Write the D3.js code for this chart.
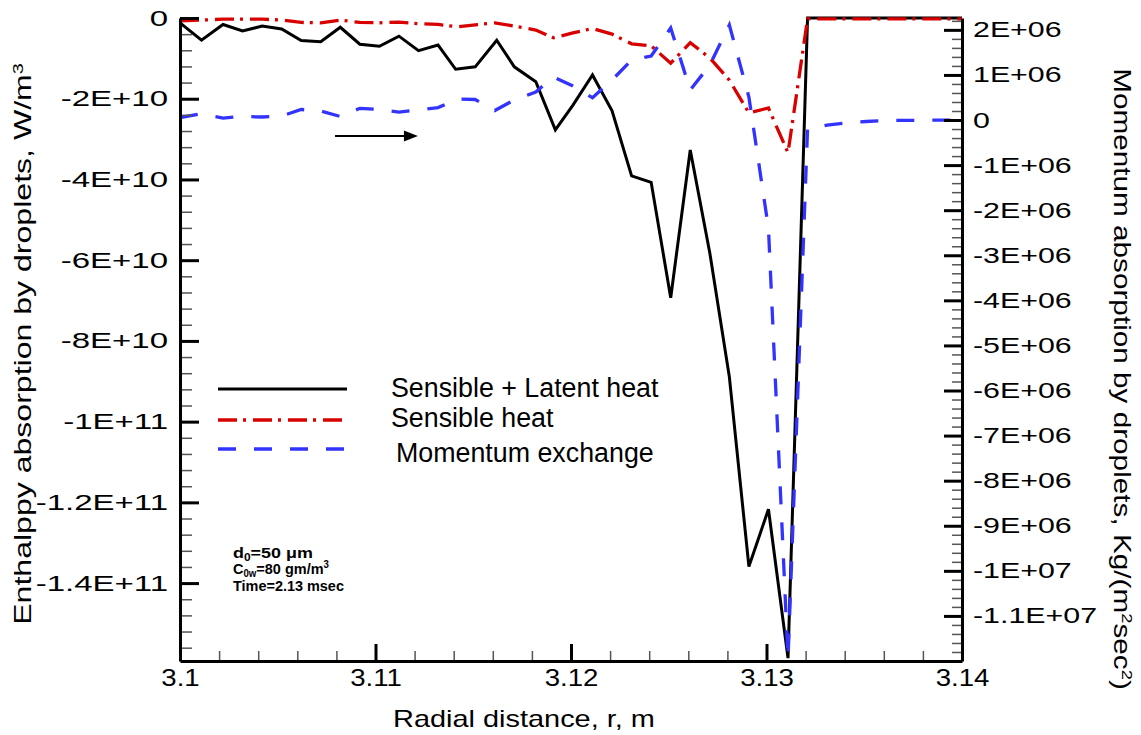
<!DOCTYPE html>
<html><head><meta charset="utf-8">
<script src="https://cdn.jsdelivr.net/npm/d3@7"></script>
<style>
body{margin:0;background:#fff}
svg{display:block}
text{font-family:"Liberation Sans",Arial,Helvetica,sans-serif;fill:#000}
</style>
</head><body>
<svg id="c" width="1141" height="735"></svg>
<script>
// ---------- data ----------
const blackR = [3.1000,3.1011,3.1022,3.1032,3.1042,3.1052,3.1062,3.1072,3.1082,3.1092,3.1102,3.1112,3.1122,3.1132,3.1141,3.1151,3.1162,3.1171,3.1182,3.1192,3.1201,3.1211,3.1221,3.1231,3.1241,3.1251,3.1261,3.1271,3.1281,3.1291,3.1301,3.1311,3.1321,3.1330,3.1400];
const blackQ = [-0.12,-0.55,-0.16,-0.32,-0.20,-0.27,-0.56,-0.59,-0.23,-0.65,-0.70,-0.45,-0.81,-0.67,-1.27,-1.21,-0.55,-1.21,-1.58,-2.77,-2.16,-1.41,-2.30,-3.91,-4.07,-6.93,-3.27,-5.82,-8.89,-13.59,-12.17,-15.86,0,0,0]; // x 1E10 W/m3

const redR = [3.1000,3.1022,3.1042,3.1052,3.1062,3.1072,3.1082,3.1092,3.1102,3.1112,3.1122,3.1132,3.1142,3.1151,3.1161,3.1171,3.1182,3.1191,3.1201,3.1211,3.1221,3.1231,3.1241,3.1251,3.1261,3.1271,3.1281,3.1291,3.1301,3.1311,3.1321,3.1400];
const redQ = [-0.07,-0.03,-0.03,-0.05,-0.11,-0.12,-0.05,-0.11,-0.12,-0.10,-0.14,-0.16,-0.22,-0.17,-0.12,-0.20,-0.30,-0.49,-0.37,-0.26,-0.40,-0.64,-0.69,-1.12,-0.61,-0.99,-1.54,-2.35,-2.23,-3.34,-0.02,-0.02]; // x 1E10 W/m3

const blueR = [3.1000,3.1010,3.1022,3.1032,3.1042,3.1052,3.1062,3.1072,3.1082,3.1092,3.1102,3.1112,3.1122,3.1132,3.1142,3.1151,3.1161,3.1171,3.1182,3.1191,3.1201,3.1211,3.1221,3.1231,3.1241,3.1251,3.1261,3.1271,3.1281,3.1291,3.1301,3.1311,3.1321,3.1331,3.1341,3.1351,3.1361,3.1400];
const blueM = [0.055,0.133,0.044,0.078,0.067,0.089,0.233,0.200,0.078,0.260,0.233,0.177,0.222,0.277,0.466,0.455,0.211,0.444,0.621,0.954,0.754,0.495,0.887,1.331,1.420,2.040,0.665,1.220,2.107,0.510,-2.400,-11.95,-0.200,-0.111,-0.067,-0.033,-0.011,0]; // x 1E6 Kg/(m2 sec2)

const xTicks = [3.10,3.11,3.12,3.13,3.14];
const xTickLabels = ["3.1","3.11","3.12","3.13","3.14"];
const leftTicks = [0,-2e10,-4e10,-6e10,-8e10,-1e11,-1.2e11,-1.4e11];
const leftTickLabels = ["0","-2E+10","-4E+10","-6E+10","-8E+10","-1E+11","-1.2E+11","-1.4E+11"];
const rightTicks = [2e6,1e6,0,-1e6,-2e6,-3e6,-4e6,-5e6,-6e6,-7e6,-8e6,-9e6,-1e7,-1.1e7];
const rightTickLabels = ["2E+06","1E+06","0","-1E+06","-2E+06","-3E+06","-4E+06","-5E+06","-6E+06","-7E+06","-8E+06","-9E+06","-1E+07","-1.1E+07"];

const seriesNames = ["Sensible + Latent heat","Sensible heat","Momentum exchange"];
const seriesColors = ["#000000","#d90000","#3333ff"];

// ---------- layout ----------
const svg = d3.select('#c');
const L=180, R=962, T=18, B=661;
const x = d3.scaleLinear().domain([3.1,3.14]).range([L,R]);
const yL = d3.scaleLinear().domain([-1.593e11,0]).range([B,T]);
const yR = d3.scaleLinear().domain([-1.2e7,2.263e6]).range([B,T]);

svg.append('clipPath').attr('id','clip').append('rect')
  .attr('x',L).attr('y',T-5).attr('width',R-L).attr('height',B-T+5);

const plot = svg.append('g').attr('clip-path','url(#clip)');

const lineL = d3.line().x(d=>x(d[0])).y(d=>yL(d[1]*1e10));
const lineR = d3.line().x(d=>x(d[0])).y(d=>yR(d[1]*1e6));

plot.append('path').datum(blackR.map((r,i)=>[r,blackQ[i]]))
  .attr('d',lineL).attr('fill','none').attr('stroke',seriesColors[0])
  .attr('stroke-width',3).attr('stroke-linejoin','miter');
plot.append('path').datum(redR.map((r,i)=>[r,redQ[i]]))
  .attr('d',lineL).attr('fill','none').attr('stroke',seriesColors[1])
  .attr('stroke-width',3.3).attr('stroke-dasharray','19,6,3,7');
plot.append('path').datum(blueR.map((r,i)=>[r,blueM[i]]))
  .attr('d',lineR).attr('fill','none').attr('stroke',seriesColors[2])
  .attr('stroke-width',3.3).attr('stroke-dasharray','18,18');

// ---------- axes ----------
function stretchTexts(sel, f){
  sel.each(function(){
    const t=d3.select(this);
    const xx=+t.attr('x')||0;
    t.attr('x',0).attr('transform',`translate(${xx},0) scale(${f},1)`);
  });
}
const xMinor = d3.range(0,21).filter(i=>i%5!==0).map(i=>3.1+i*0.002);
const lMinor = d3.range(0,40).filter(i=>i%5!==0).map(i=>-i*4e9).filter(v=>v>=-1.593e11);
const rMinor = d3.range(-60,12).filter(i=>i%5!==0).map(i=>i*2e5).filter(v=>v>=-1.2e7&&v<=2.263e6);

function minor(g){ g.select('.domain').remove(); g.selectAll('.tick line').attr('stroke','#555').attr('stroke-width',1.5); g.selectAll('.tick text').remove(); }
function major(g){ g.select('.domain').attr('stroke','#000').attr('stroke-width',3);
  g.selectAll('.tick line').attr('stroke','#000').attr('stroke-width',3); }

svg.append('g').attr('transform',`translate(0,${B})`)
  .call(d3.axisBottom(x).tickValues(xMinor).tickSizeInner(-10).tickSizeOuter(0).tickFormat('')).call(minor);
svg.append('g').attr('transform',`translate(${L},0)`)
  .call(d3.axisLeft(yL).tickValues(lMinor).tickSizeInner(-12).tickSizeOuter(0).tickFormat('')).call(minor);
svg.append('g').attr('transform',`translate(${R},0)`)
  .call(d3.axisRight(yR).tickValues(rMinor).tickSizeInner(-10).tickSizeOuter(0).tickFormat('')).call(minor);

const gx = svg.append('g').attr('transform',`translate(0,${B})`)
  .call(d3.axisBottom(x).tickValues(xTicks).tickFormat((d,i)=>xTickLabels[i]).tickSizeInner(-17).tickSizeOuter(0))
  .call(major);
gx.selectAll('.tick text').attr('y',25).attr('dy',0).attr('font-size',23).attr('font-family','"Liberation Sans",Arial,sans-serif').attr('fill','#000');
stretchTexts(gx.selectAll('.tick text'),1.2);

const gl = svg.append('g').attr('transform',`translate(${L},0)`)
  .call(d3.axisLeft(yL).tickValues(leftTicks).tickFormat((d,i)=>leftTickLabels[i]).tickSizeInner(-19).tickSizeOuter(0).tickPadding(12))
  .call(major);
gl.selectAll('.tick text').attr('font-size',22).attr('font-family','"Liberation Sans",Arial,sans-serif').attr('fill','#000');
stretchTexts(gl.selectAll('.tick text'),1.5);

const gr = svg.append('g').attr('transform',`translate(${R},0)`)
  .call(d3.axisRight(yR).tickValues(rightTicks).tickFormat((d,i)=>rightTickLabels[i]).tickSizeInner(-18).tickSizeOuter(0).tickPadding(11))
  .call(major);
gr.selectAll('.tick text').attr('font-size',22).attr('font-family','"Liberation Sans",Arial,sans-serif').attr('fill','#000');
stretchTexts(gr.selectAll('.tick text'),1.38);

// ---------- titles ----------
function title(parts, cx, cy, rot, target, size){
  const g = svg.append('g');
  const t = g.append('text').attr('font-size',size).attr('text-anchor','middle');
  parts.forEach(p=>{
    const s=t.append('tspan').text(p.t);
    if(p.sup){ s.attr('font-size',size*0.62).attr('baseline-shift','super'); }
  });
  const w = t.node().getComputedTextLength();
  g.attr('transform',`translate(${cx},${cy}) rotate(${rot}) scale(${target/w},1)`);
}
title([{t:"Radial distance, r, m"}], 524, 727, 0, 262, 24);
title([{t:"Enthalppy absorption by droplets, W/m"},{t:"3",sup:true}], 31, 344, -90, 562, 23);
title([{t:"Momentum absorption by droplets, Kg/(m"},{t:"2",sup:true},{t:"sec"},{t:"2",sup:true},{t:")"}], 1114, 379, 90, 622, 23);

// ---------- legend ----------
const legY = [389, 420, 449];
const legTextY = [397, 427, 462];
const legTextX = [391, 391, 396];
const dashes = [null,'19,6,3,7','18,18'];
seriesNames.forEach((n,i)=>{
  const l = svg.append('line').attr('x1',218).attr('x2',347).attr('y1',legY[i]).attr('y2',legY[i])
    .attr('stroke',seriesColors[i]).attr('stroke-width',i===0?3:3.3);
  if(dashes[i]) l.attr('stroke-dasharray',dashes[i]);
  svg.append('text').attr('x',legTextX[i]).attr('y',legTextY[i]).attr('font-size',26.8).text(n);
});

// ---------- annotation ----------
function fitLine(node, target){
  const w = node.getComputedTextLength();
  d3.select(node).attr('transform',`translate(233,0) scale(${target/w},1)`);
}
const a1 = svg.append('text').attr('x',0).attr('y',558).attr('font-size',15).attr('font-weight','bold');
a1.append('tspan').text('d');
a1.append('tspan').attr('font-size',10).attr('dy',3).text('0');
a1.append('tspan').attr('dy',-3).text('=50 μm');
fitLine(a1.node(), 80);
const a2 = svg.append('text').attr('x',0).attr('y',574).attr('font-size',15).attr('font-weight','bold');
a2.append('tspan').text('C');
a2.append('tspan').attr('font-size',10).attr('dy',3).text('0w');
a2.append('tspan').attr('dy',-3).text('=80 gm/m');
a2.append('tspan').attr('font-size',10).attr('dy',-6).text('3');
fitLine(a2.node(), 96);
const a3 = svg.append('text').attr('x',0).attr('y',591).attr('font-size',15).attr('font-weight','bold').text('Time=2.13 msec');
fitLine(a3.node(), 111);

// ---------- arrow (points to right axis) ----------
const arX0 = x(3.10793), arX1 = x(3.11217), arY = yR(-0.355e6);
svg.append('line').attr('x1',arX0).attr('x2',arX1-12).attr('y1',arY).attr('y2',arY)
  .attr('stroke','#000').attr('stroke-width',1.8);
svg.append('path').attr('d',`M${arX1},${arY} L${arX1-14},${arY-5.5} L${arX1-14},${arY+5.5} Z`).attr('fill','#000');
</script>
</body></html>
